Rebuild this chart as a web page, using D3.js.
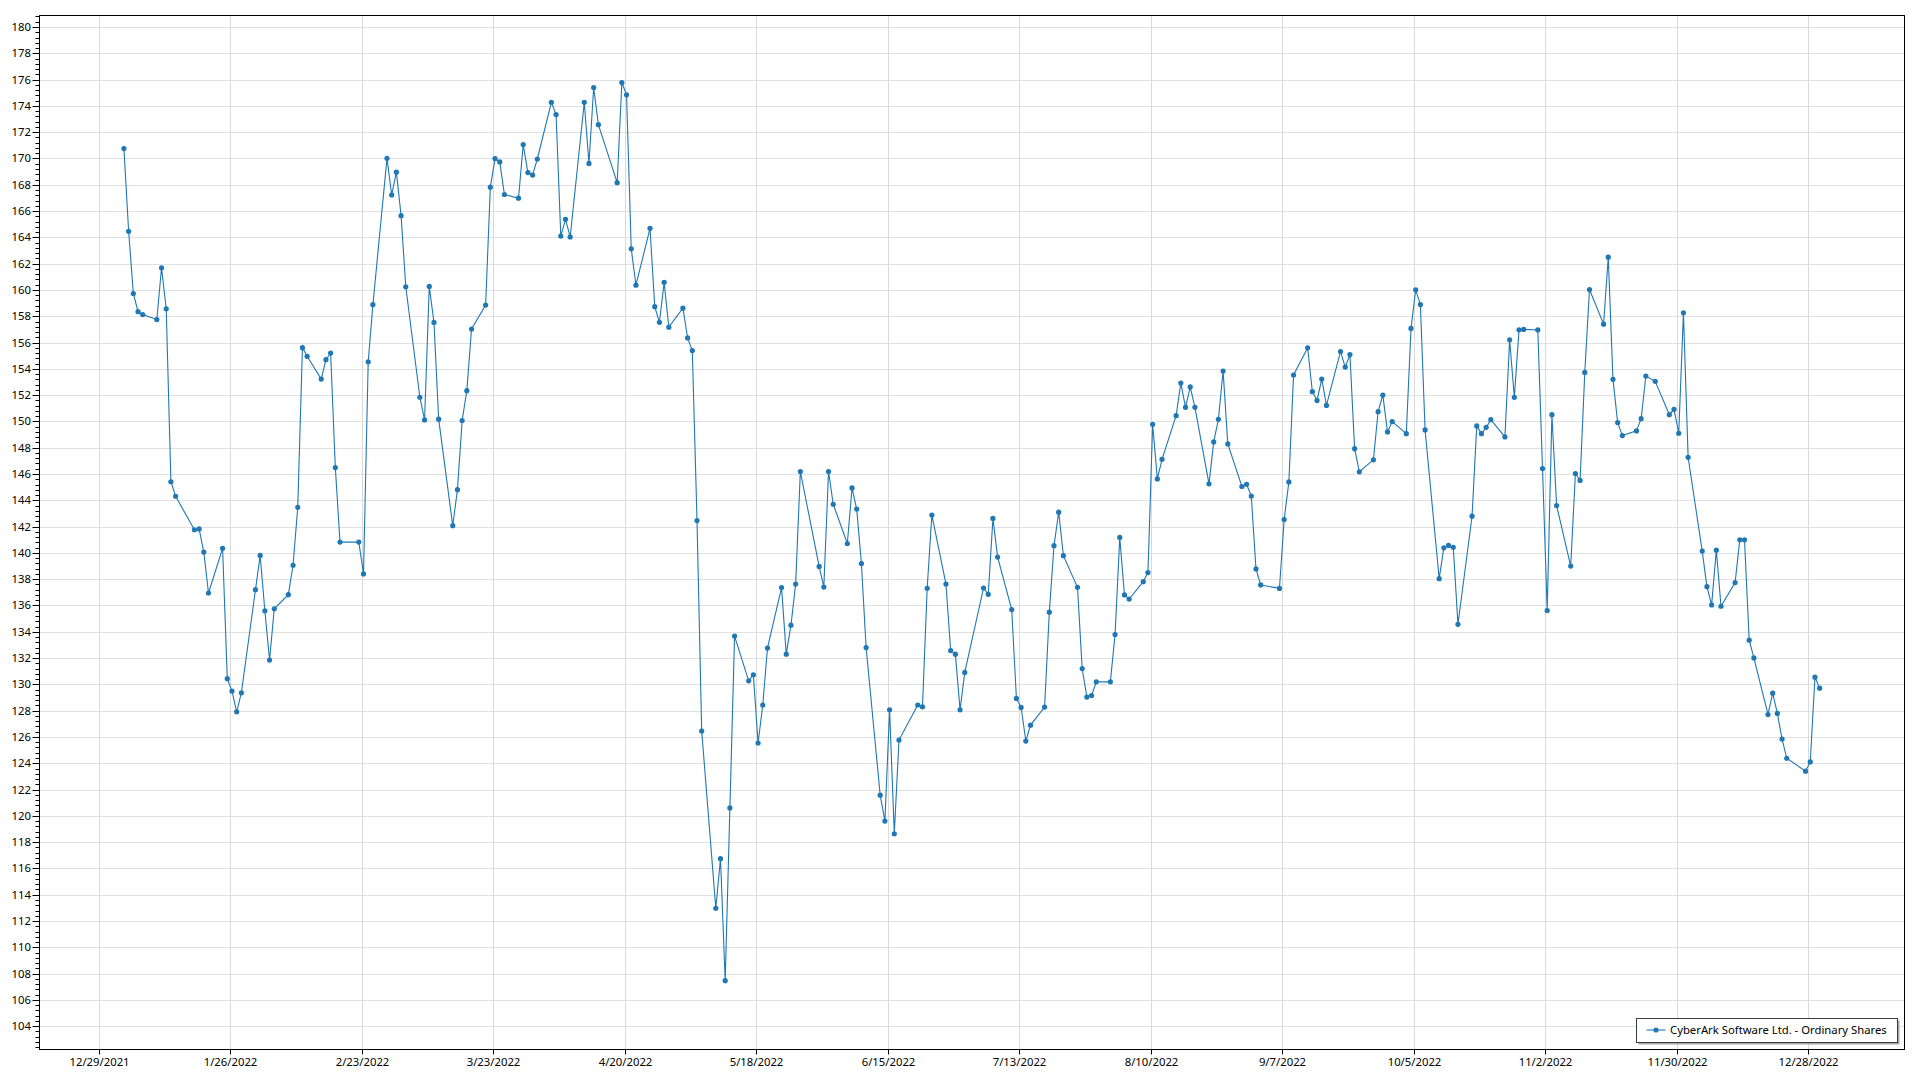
<!DOCTYPE html>
<html><head><meta charset="utf-8">
<script src="https://cdn.jsdelivr.net/npm/d3@7"></script>
<style>
html,body{margin:0;padding:0;background:#fff;}
svg{display:block;}
text{font-family:"Noto Sans",sans-serif;}
</style></head>
<body><svg id="chart" width="1920" height="1080"></svg>
<script>
const seriesName = "CyberArk Software Ltd. - Ordinary Shares";

const tradeDates = [
"2022-01-03","2022-01-04","2022-01-05","2022-01-06","2022-01-07","2022-01-10","2022-01-11","2022-01-12","2022-01-13","2022-01-14",
"2022-01-18","2022-01-19","2022-01-20","2022-01-21","2022-01-24","2022-01-25","2022-01-26","2022-01-27","2022-01-28","2022-01-31",
"2022-02-01","2022-02-02","2022-02-03","2022-02-04","2022-02-07","2022-02-08","2022-02-09","2022-02-10","2022-02-11","2022-02-14",
"2022-02-15","2022-02-16","2022-02-17","2022-02-18","2022-02-22","2022-02-23","2022-02-24","2022-02-25","2022-02-28","2022-03-01",
"2022-03-02","2022-03-03","2022-03-04","2022-03-07","2022-03-08","2022-03-09","2022-03-10","2022-03-11","2022-03-14","2022-03-15",
"2022-03-16","2022-03-17","2022-03-18","2022-03-21","2022-03-22","2022-03-23","2022-03-24","2022-03-25","2022-03-28","2022-03-29",
"2022-03-30","2022-03-31","2022-04-01","2022-04-04","2022-04-05","2022-04-06","2022-04-07","2022-04-08","2022-04-11","2022-04-12",
"2022-04-13","2022-04-14","2022-04-18","2022-04-19","2022-04-20","2022-04-21","2022-04-22","2022-04-25","2022-04-26","2022-04-27",
"2022-04-28","2022-04-29","2022-05-02","2022-05-03","2022-05-04","2022-05-05","2022-05-06","2022-05-09","2022-05-10","2022-05-11",
"2022-05-12","2022-05-13","2022-05-16","2022-05-17","2022-05-18","2022-05-19","2022-05-20","2022-05-23","2022-05-24","2022-05-25",
"2022-05-26","2022-05-27","2022-05-31","2022-06-01","2022-06-02","2022-06-03","2022-06-06","2022-06-07","2022-06-08","2022-06-09",
"2022-06-10","2022-06-13","2022-06-14","2022-06-15","2022-06-16","2022-06-17","2022-06-21","2022-06-22","2022-06-23","2022-06-24",
"2022-06-27","2022-06-28","2022-06-29","2022-06-30","2022-07-01","2022-07-05","2022-07-06","2022-07-07","2022-07-08","2022-07-11",
"2022-07-12","2022-07-13","2022-07-14","2022-07-15","2022-07-18","2022-07-19","2022-07-20","2022-07-21","2022-07-22","2022-07-25",
"2022-07-26","2022-07-27","2022-07-28","2022-07-29","2022-08-01","2022-08-02","2022-08-03","2022-08-04","2022-08-05","2022-08-08",
"2022-08-09","2022-08-10","2022-08-11","2022-08-12","2022-08-15","2022-08-16","2022-08-17","2022-08-18","2022-08-19","2022-08-22",
"2022-08-23","2022-08-24","2022-08-25","2022-08-26","2022-08-29","2022-08-30","2022-08-31","2022-09-01","2022-09-02","2022-09-06",
"2022-09-07","2022-09-08","2022-09-09","2022-09-12","2022-09-13","2022-09-14","2022-09-15","2022-09-16","2022-09-19","2022-09-20",
"2022-09-21","2022-09-22","2022-09-23","2022-09-26","2022-09-27","2022-09-28","2022-09-29","2022-09-30","2022-10-03","2022-10-04",
"2022-10-05","2022-10-06","2022-10-07","2022-10-10","2022-10-11","2022-10-12","2022-10-13","2022-10-14","2022-10-17","2022-10-18",
"2022-10-19","2022-10-20","2022-10-21","2022-10-24","2022-10-25","2022-10-26","2022-10-27","2022-10-28","2022-10-31","2022-11-01",
"2022-11-02","2022-11-03","2022-11-04","2022-11-07","2022-11-08","2022-11-09","2022-11-10","2022-11-11","2022-11-14","2022-11-15",
"2022-11-16","2022-11-17","2022-11-18","2022-11-21","2022-11-22","2022-11-23","2022-11-25","2022-11-28","2022-11-29","2022-11-30",
"2022-12-01","2022-12-02","2022-12-05","2022-12-06","2022-12-07","2022-12-08","2022-12-09","2022-12-12","2022-12-13","2022-12-14",
"2022-12-15","2022-12-16","2022-12-19","2022-12-20","2022-12-21","2022-12-22","2022-12-23","2022-12-27","2022-12-28","2022-12-29",
"2022-12-30"
];

const closePrices = [
170.75,164.46,159.73,158.35,158.13,157.75,161.69,158.57,145.41,144.31,
141.76,141.82,140.06,136.95,140.35,130.43,129.49,127.91,129.36,137.20,
139.81,135.60,131.85,135.75,136.82,139.06,143.46,155.61,154.95,153.22,
154.70,155.20,146.49,140.82,140.82,138.40,154.54,158.88,170.01,167.23,
168.96,165.65,160.24,151.84,150.11,160.27,157.53,150.17,142.07,144.81,
150.07,152.34,157.03,158.85,167.82,169.99,169.74,167.26,166.98,171.06,
168.93,168.74,169.96,174.27,173.34,164.10,165.37,164.03,174.27,169.62,
175.40,172.57,168.16,175.78,174.84,163.13,160.36,164.69,158.73,157.54,
160.58,157.17,158.61,156.35,155.39,142.46,126.45,112.97,116.74,107.46,
120.60,133.67,130.27,130.73,125.54,128.43,132.76,137.36,132.30,134.50,
137.63,146.19,138.97,137.40,146.19,143.70,140.71,144.94,143.33,139.19,
132.80,121.57,119.60,128.06,118.63,125.76,128.43,128.29,137.31,142.88,
137.63,132.57,132.30,128.06,130.91,137.33,136.85,142.62,139.68,135.69,
128.93,128.25,125.69,126.90,128.27,135.49,140.55,143.10,139.79,137.38,
131.20,129.03,129.15,130.19,130.19,133.79,141.18,136.80,136.49,137.81,
138.50,149.78,145.63,147.12,150.44,152.92,151.07,152.62,151.07,145.25,
148.44,150.16,153.83,148.29,145.05,145.22,144.32,138.78,137.56,137.30,
142.54,145.40,153.53,155.60,152.26,151.60,153.22,151.22,155.32,154.13,
155.09,147.93,146.17,147.08,150.74,152.01,149.20,149.99,149.07,157.07,
160.01,158.89,149.35,138.04,140.39,140.57,140.42,134.57,142.79,149.66,
149.07,149.55,150.13,148.82,156.21,151.83,156.97,157.00,156.96,146.41,
135.62,150.51,143.60,139.00,146.04,145.51,153.73,160.03,157.40,162.49,
153.20,149.91,148.92,149.28,150.21,153.45,153.05,150.51,150.92,149.10,
158.26,147.27,140.14,137.43,136.04,140.21,135.94,137.74,141.00,141.00,
133.36,132.01,127.71,129.33,127.79,125.84,124.38,123.40,124.10,130.55,
129.71
];

const xTickLabels = ["12/29/2021","1/26/2022","2/23/2022","3/23/2022","4/20/2022","5/18/2022","6/15/2022",
  "7/13/2022","8/10/2022","9/7/2022","10/5/2022","11/2/2022","11/30/2022","12/28/2022"];
const yTickValues = d3.range(104, 181, 2);
const yMinorStep = 0.4;

// ---- layout ----
const plot = {left: 39.5, top: 15.5, right: 1904.5, bottom: 1049.5};
const color = "#1f77b4";
const pointTimeOffsetHours = 10;
const fontSize = 11.3;

const parseTick = d3.utcParse("%m/%d/%Y");
const parseDate = d3.utcParse("%Y-%m-%d");
const xTickDates = xTickLabels.map(parseTick);
const data = tradeDates.map((d, i) => ({
  date: new Date(parseDate(d).getTime() + pointTimeOffsetHours * 3600e3),
  value: closePrices[i]
}));

const firstTick = xTickDates[0], lastTick = xTickDates[xTickDates.length - 1];
const x = d3.scaleUtc().domain([firstTick, lastTick]).range([98.5, 1808.3]);
const y = d3.scaleLinear().domain([104, 180]).range([1026.2, 27]);
const xr = x.copy().interpolate(d3.interpolateRound);
const yr = y.copy().interpolate(d3.interpolateRound);

const svg = d3.select("#chart");
svg.append("rect").attr("width", 1920).attr("height", 1080).attr("fill", "#fff");

svg.append("clipPath").attr("id", "clip").append("rect")
  .attr("x", plot.left).attr("y", plot.top)
  .attr("width", plot.right - plot.left).attr("height", plot.bottom - plot.top);

// gridlines
const grid = svg.append("g");
grid.selectAll("line.h").data(yTickValues).join("line")
  .attr("x1", plot.left).attr("x2", plot.right)
  .attr("y1", d => yr(d) + 0.5).attr("y2", d => yr(d) + 0.5)
  .attr("stroke", "#e1e1e1").attr("stroke-width", 1);
grid.selectAll("line.v").data(xTickDates).join("line")
  .attr("y1", plot.top).attr("y2", plot.bottom)
  .attr("x1", d => xr(d) + 0.5).attr("x2", d => xr(d) + 0.5)
  .attr("stroke", "#dadada").attr("stroke-width", 1);

// series
const g = svg.append("g").attr("clip-path", "url(#clip)");
const line = d3.line().x(d => x(d.date)).y(d => y(d.value));
g.append("path").datum(data).attr("d", line)
  .attr("fill", "none").attr("stroke", color).attr("stroke-width", 1.1);
g.selectAll("circle").data(data).join("circle")
  .attr("cx", d => x(d.date)).attr("cy", d => y(d.value)).attr("r", 2.6)
  .attr("fill", color);

// border
svg.append("rect").attr("x", plot.left).attr("y", plot.top)
  .attr("width", plot.right - plot.left).attr("height", plot.bottom - plot.top)
  .attr("fill", "none").attr("stroke", "#000").attr("stroke-width", 1);

// y axis minor ticks
const minorVals = d3.range(102.4, 180.9, yMinorStep).filter(v => Math.abs(v / 2 - Math.round(v / 2)) > 0.01 && v > 102.2);
svg.append("g").attr("transform", `translate(${plot.left},0)`)
  .call(d3.axisLeft(yr).tickValues(minorVals).tickSize(4).tickFormat(""))
  .call(a => a.select(".domain").remove())
  .selectAll("line").attr("stroke", "#000");
// y axis major
const yAxis = svg.append("g").attr("transform", `translate(${plot.left},0)`)
  .call(d3.axisLeft(yr).tickValues(yTickValues).tickSize(7).tickPadding(1.5).tickFormat(d3.format("d")));
yAxis.select(".domain").remove();
yAxis.selectAll("line").attr("stroke", "#000");
yAxis.selectAll("text").attr("font-size", fontSize).attr("fill", "#000")
  .attr("font-family", "'Noto Sans', sans-serif");

// x axis
const xAxis = svg.append("g").attr("transform", `translate(0,${plot.bottom})`)
  .call(d3.axisBottom(xr).tickValues(xTickDates).tickSize(5).tickPadding(3.8)
    .tickFormat((d, i) => xTickLabels[i]));
xAxis.select(".domain").remove();
xAxis.selectAll("line").attr("stroke", "#000");
xAxis.selectAll("text").attr("font-size", fontSize).attr("fill", "#000")
  .attr("font-family", "'Noto Sans', sans-serif");

// legend
const lg = svg.append("g");
const lgX = 1636.5, lgY = 1018.5, lgW = 261, lgH = 24;
lg.append("rect").attr("x", lgX + 2).attr("y", lgY + 2).attr("width", lgW).attr("height", lgH)
  .attr("fill", "#a8a8a8");
lg.append("rect").attr("x", lgX).attr("y", lgY).attr("width", lgW).attr("height", lgH)
  .attr("fill", "#fff").attr("stroke", "#3c3c3c").attr("stroke-width", 1);
lg.append("line").attr("x1", lgX + 10).attr("x2", lgX + 29).attr("y1", lgY + 11.5).attr("y2", lgY + 11.5)
  .attr("stroke", color).attr("stroke-width", 1.1);
lg.append("circle").attr("cx", lgX + 19.5).attr("cy", lgY + 11.5).attr("r", 2.6).attr("fill", color);
lg.append("text").attr("x", lgX + 33.5).attr("y", lgY + 11.5).attr("dy", "0.35em")
  .attr("font-size", fontSize).attr("fill", "#000").text(seriesName);
</script>
</body></html>
